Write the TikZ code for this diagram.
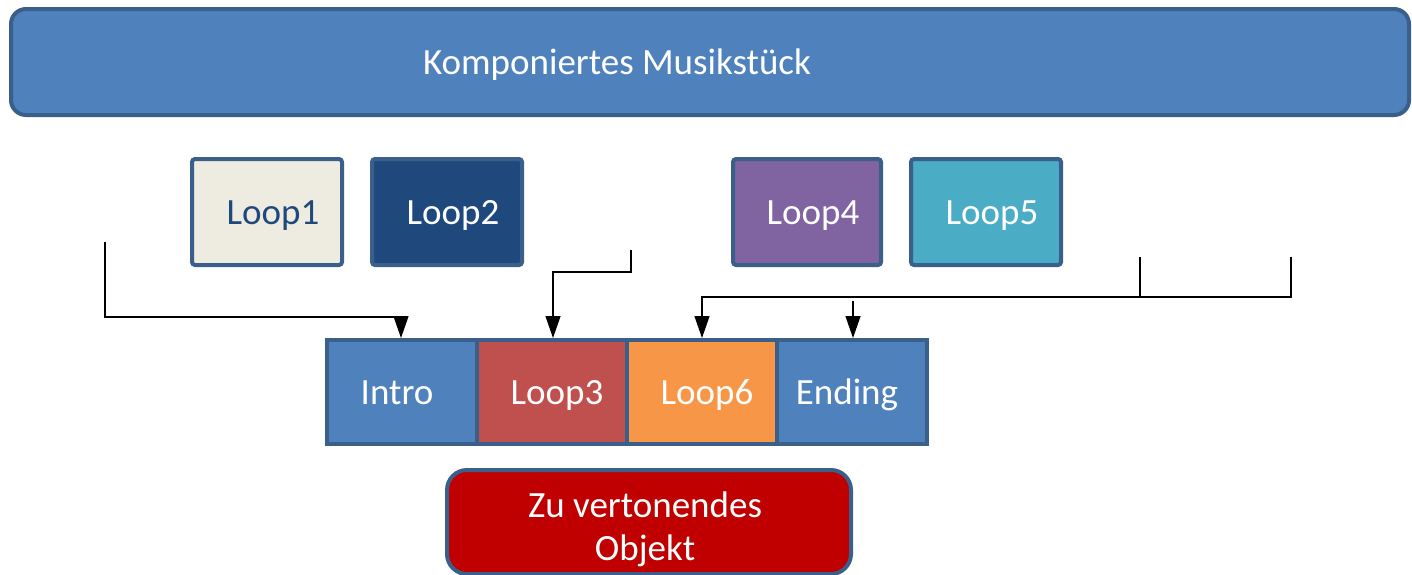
\documentclass[tikz,border=0pt]{standalone}
\usepackage{fontspec}
\setmainfont{Carlito}
\usetikzlibrary{arrows.meta,calc}
\definecolor{bord}{HTML}{3A5F8B}
\definecolor{acc1}{HTML}{4F81BD}
\definecolor{lp1}{HTML}{EEECE1}
\definecolor{lp2}{HTML}{1F497D}
\definecolor{lp3}{HTML}{C0504D}
\definecolor{lp4}{HTML}{8064A2}
\definecolor{lp5}{HTML}{4BACC6}
\definecolor{lp6}{HTML}{F79646}
\definecolor{objred}{HTML}{C00000}
\tikzset{
  bigfont/.style={font=\fontsize{37}{43}\selectfont},
  box/.style={draw=bord, line width=4pt, rounded corners=3pt, minimum width=150pt, minimum height=106pt, inner sep=0pt, text=white, bigfont, text height=30pt, text depth=6pt},
  seg/.style={draw=bord, line width=4pt, minimum width=150pt, minimum height=104pt, inner sep=0pt, text=white, bigfont, text height=30pt, text depth=6pt},
  conn/.style={line width=1.2pt, black},
  arr/.style={conn, -{Triangle[width=15pt,length=22pt]}}
}
\begin{document}
\begin{tikzpicture}[x=1pt,y=-1pt]
\useasboundingbox (0,0) rectangle (1412,574);
% top box
\node[draw=bord, line width=4pt, rounded corners=15pt, fill=acc1, minimum width=1398pt, minimum height=106pt, inner sep=0pt, text=white, bigfont, text height=30pt, text depth=6pt] (top) at (710,62) {Komponiertes Musikstück\hspace*{186pt}};
% loops
\node[box, fill=lp1, text=lp2] (loop1) at (267,212) {\hspace*{12pt}Loop1};
\node[box, fill=lp2] (loop2) at (447,212) {\hspace*{12pt}Loop2};
\node[box, fill=lp4, minimum width=148pt] (loop4) at (807,212) {\hspace*{12pt}Loop4};
\node[box, fill=lp5] (loop5) at (986,212) {\hspace*{12pt}Loop5};
% bottom row
\node[seg, fill=acc1] (intro) at (402,392) {Intro\hspace*{10pt}};
\node[seg, fill=lp3] (loop3) at (552,392) {\hspace*{10pt}Loop3};
\node[seg, fill=lp6] (loop6) at (702,392) {\hspace*{10pt}Loop6};
\node[seg, fill=acc1] (ending) at (852,392) {Ending\hspace*{10pt}};
% object box
\node[draw=bord, line width=4pt, rounded corners=20pt, fill=objred, minimum width=404pt, minimum height=104pt, inner sep=0pt] (obj) at (649,522) {};
\node[inner sep=0pt, text=white, align=center, bigfont] (objtxt) at ($(obj.center)+(-4,7)$) {Zu vertonendes\\Objekt};
% connectors
\coordinate (c1) at (105,242);
\coordinate (k1) at (401,317);
\draw[arr] (c1) |- (k1) -- (k1 |- intro.north);
\coordinate (c2) at (631,250);
\coordinate (k2) at (553,272);
\draw[arr] (c2) |- (k2) -- (k2 |- loop3.north);
\coordinate (c3) at (1140,257);
\coordinate (c4) at (1291,257);
\coordinate (j) at (1140,297);
\draw[conn] (c3) -- (j);
\draw[conn] (c4) |- (j);
\draw[arr] (j) -| (loop6.north);
\coordinate (c5) at (853,301);
\draw[arr] (c5) -- (c5 |- ending.north);
\end{tikzpicture}
\end{document}
